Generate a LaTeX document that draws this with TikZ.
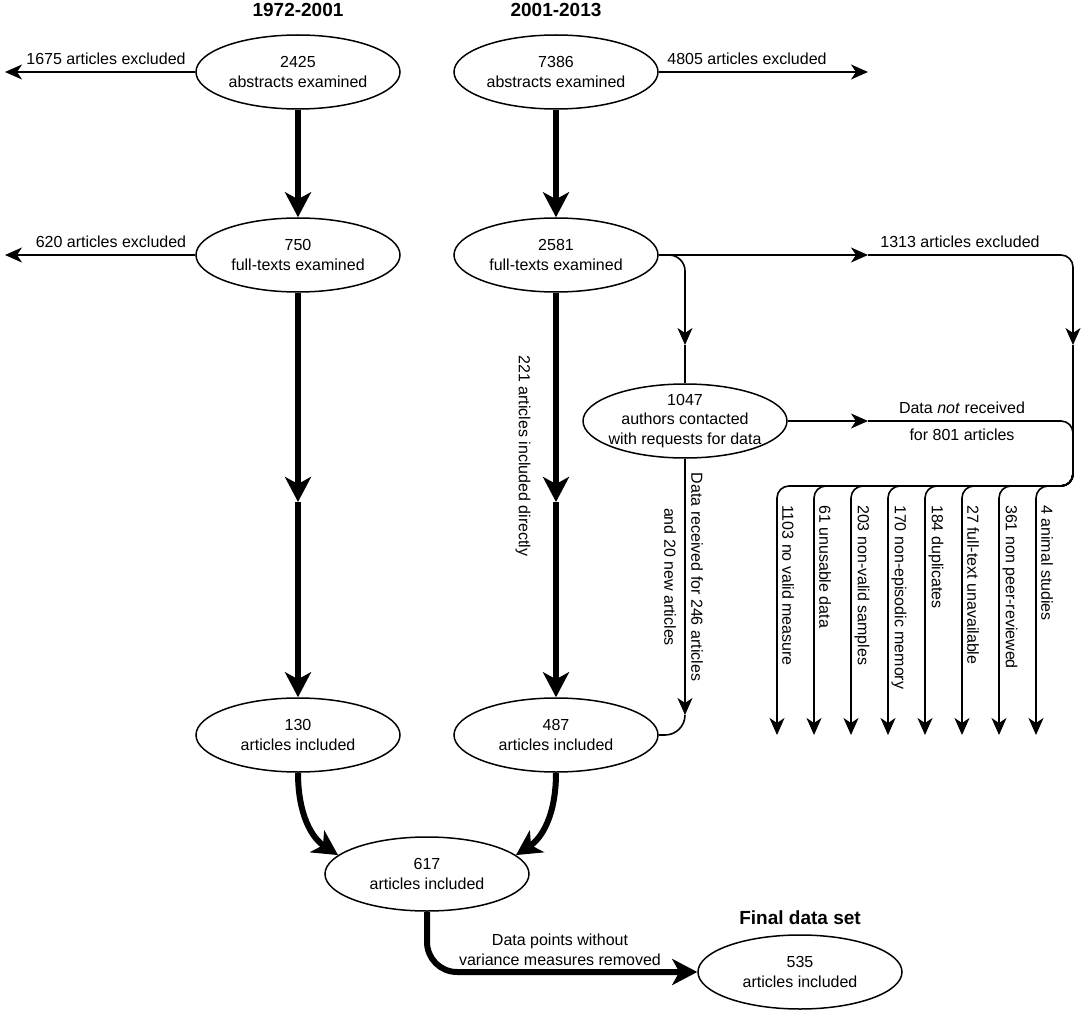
\documentclass[tikz,border=0pt]{standalone}
\usepackage{fontspec}
\setmainfont{Liberation Sans}
\usetikzlibrary{arrows.meta,shapes.geometric}
\tikzset{
  Tn/.tip={Stealth[length=17pt,width=15pt,inset=5pt]},
  Tk/.tip={Stealth[length=25pt,width=26pt,inset=7pt]},
}
\begin{document}
\begin{tikzpicture}[x=1pt,y=-1pt,
  every node/.style={font=\fontsize{16}{19.5}\selectfont, inner sep=0pt},
  ell/.style={draw, ellipse, line width=1.5pt, minimum width=204pt, minimum height=74pt,
              inner xsep=-6pt, inner ysep=-2pt, align=center},
  ttl/.style={font=\bfseries\fontsize{19}{22}\selectfont},
  thinln/.style={line width=1.6pt},
  thickln/.style={line width=6pt},
  vlab/.style={rotate=-90},
  blab/.style={rotate=-90, anchor=west},
]
\useasboundingbox (0,0) rectangle (1084,1016);

% titles
\node[ttl] (t1) at (298,10) {1972-2001};
\node[ttl] (t2) at (556,10) {2001-2013};
\node[ttl] (t3) at (800,918) {Final data set};

% boxes
\node[ell] (A1) at (298,72) {2425\\abstracts examined};
\node[ell] (B1) at (556,72) {7386\\abstracts examined};
\node[ell] (A2) at (298,255) {750\\full-texts examined};
\node[ell] (B2) at (556,255) {2581\\full-texts examined};
\node[ell] (C)  at (685,421) {1047\\authors contacted\\with requests for data};
\node[ell] (A3) at (298,735) {130\\articles included};
\node[ell] (B3) at (556,735) {487\\articles included};
\node[ell] (D)  at (427,874) {617\\articles included};
\node[ell] (E)  at (800,972) {535\\articles included};

% helper coordinates
\coordinate (x1) at (5,72);
\coordinate (x2) at (868,72);
\coordinate (x3) at (5,255);
\coordinate (h1) at (868,255);
\coordinate (k1) at (1073,255);
\coordinate (h2) at (1073,345);
\coordinate (j1) at (1073,486);
\coordinate (k2) at (685,255);
\coordinate (h3) at (685,345);
\coordinate (h4) at (868,421);
\coordinate (k3) at (1073,421);
\coordinate (j2) at (1073,470);
\coordinate (h5) at (685,715);
\coordinate (k4) at (685,735);
\coordinate (m1) at (298,502);
\coordinate (m2) at (556,502);

% labels
\node (l1) at (106,59) {1675 articles excluded};
\node (l2) at (747,59) {4805 articles excluded};
\node (l3) at (111,242) {620 articles excluded};
\node (l4) at (960,242) {1313 articles excluded};
\node (l5) at (962,408) {Data \textit{not} received};
\node (l6) at (962,435) {for 801 articles};
\node[vlab] (l7) at (523,456) {221 articles included directly};
\node[vlab] (l8) at (697,577) {Data received for 246 articles};
\node[vlab] (l9) at (670,577) {and 20 new articles};
\node[align=center] (l10) at (560,950) {Data points without\\variance measures removed};

% thick connectors
\draw[thickln,-Tk] (A1) -- (A2);
\draw[thickln,-Tk] (B1) -- (B2);
\draw[thickln,-Tk] (A2) -- (m1);
\draw[thickln,-Tk] (m1) -- (A3);
\draw[thickln,-Tk] (B2) -- (m2);
\draw[thickln,-Tk] (m2) -- (B3);
\draw[thickln,-Tk] (A3.south) .. controls (298,815) and (312,838) .. (D.168);
\draw[thickln,-Tk] (B3.south) .. controls (556,815) and (542,838) .. (D.12);
\draw[thickln,-Tk,rounded corners=30pt] (D.south) |- (E.west);

% thin connectors
\draw[thinln,-Tn] (A1) -- (x1);
\draw[thinln,-Tn] (B1) -- (x2);
\draw[thinln,-Tn] (A2) -- (x3);
\draw[thinln,-Tn] (B2.east) -- (h1);
\draw[thinln,-Tn,rounded corners=12pt] (h1) -- (k1) -- (h2);
\draw[thinln,-Tn,rounded corners=16pt] (B2.east) -- (k2) -- (h3);
\draw[thinln] (h3) -- (C);
\draw[thinln,-Tn] (C) -- (h4);
\draw[thinln,rounded corners=12pt] (h4) -- (k3) -- (j2);
\draw[thinln,-Tn] (C) -- (h5);
\draw[thinln,rounded corners=20pt] (h5) -- (k4) -- (B3.east);

% branches of excluded reasons
\foreach \x/\t [count=\i] in {777/1103 no valid measure, 814/61 unusable data,
    851/203 non-valid samples, 888/170 non-episodic memory, 925/184 duplicates,
    962/27 full-text unavailable, 999/361 non peer-reviewed, 1036/4 animal studies}{
  \coordinate (b\i) at (\x,735);
  \draw[thinln,-Tn,rounded corners=12pt] (h2) -- (j1) -- (\x,486) -- (b\i);
  \node[blab] (r\i) at (\x+11,505) {\t};
}
\end{tikzpicture}
\end{document}
